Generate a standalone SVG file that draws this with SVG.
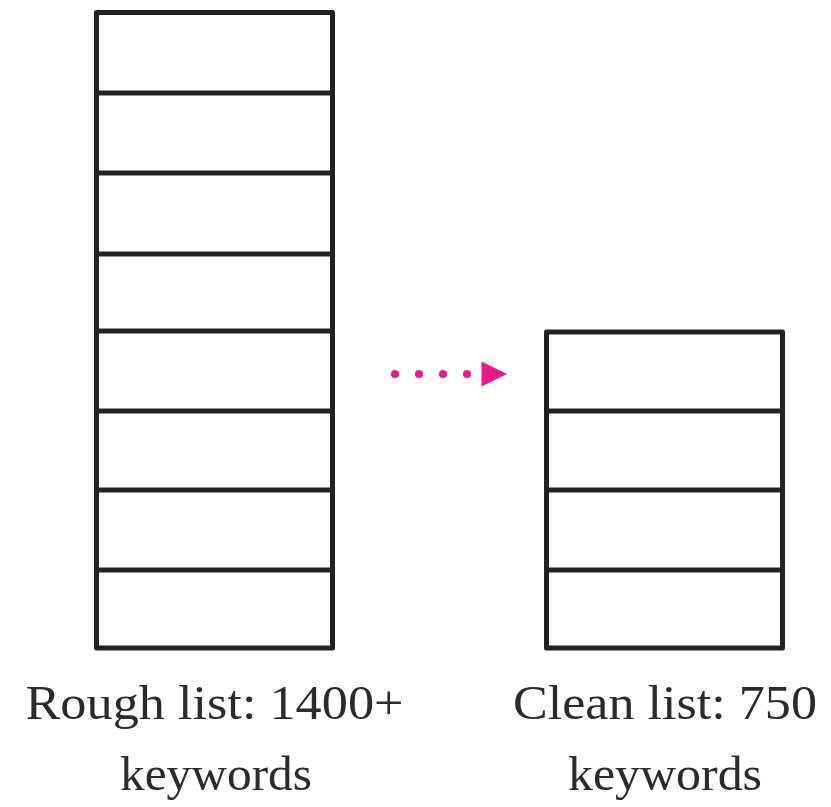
<svg xmlns="http://www.w3.org/2000/svg" width="831" height="807" viewBox="0 0 831 807">
  <style>
    .box { fill: #ffffff; stroke: #222222; stroke-width: 5; stroke-linejoin: round; }
    .row { stroke: #222222; stroke-width: 5; }
    .label { font-family: "Liberation Serif", "DejaVu Serif", serif; font-size: 49px; fill: #2b2b2b; text-anchor: middle; }
    .dot { fill: #e8198b; }
  </style>
  <rect width="831" height="807" fill="#ffffff"/>

  <!-- rough list: 8 rows -->
  <g id="rough-list">
    <rect class="box" x="96.5" y="12.5" width="236" height="635.5"/>
    <line class="row" x1="96.5" y1="93" x2="332.5" y2="93"/>
    <line class="row" x1="96.5" y1="173" x2="332.5" y2="173"/>
    <line class="row" x1="96.5" y1="254" x2="332.5" y2="254"/>
    <line class="row" x1="96.5" y1="331" x2="332.5" y2="331"/>
    <line class="row" x1="96.5" y1="411" x2="332.5" y2="411"/>
    <line class="row" x1="96.5" y1="490" x2="332.5" y2="490"/>
    <line class="row" x1="96.5" y1="570" x2="332.5" y2="570"/>
    <text class="label" x="214.5" y="719" textLength="378" lengthAdjust="spacingAndGlyphs">Rough list: 1400+</text>
    <text class="label" x="216" y="790" textLength="192" lengthAdjust="spacingAndGlyphs">keywords</text>
  </g>

  <!-- clean list: 4 rows -->
  <g id="clean-list">
    <rect class="box" x="546.5" y="332" width="236" height="316"/>
    <line class="row" x1="546.5" y1="411" x2="782.5" y2="411"/>
    <line class="row" x1="546.5" y1="490" x2="782.5" y2="490"/>
    <line class="row" x1="546.5" y1="570" x2="782.5" y2="570"/>
    <text class="label" x="665" y="719" textLength="304" lengthAdjust="spacingAndGlyphs">Clean list: 750</text>
    <text class="label" x="665" y="790" textLength="194" lengthAdjust="spacingAndGlyphs">keywords</text>
  </g>

  <!-- dotted arrow between the lists -->
  <g id="connectors">
    <circle class="dot" cx="395" cy="374" r="4"/>
    <circle class="dot" cx="419" cy="374" r="4"/>
    <circle class="dot" cx="443" cy="374" r="4"/>
    <circle class="dot" cx="467" cy="374" r="4"/>
    <polygon class="dot" points="481.5,361.5 507,374 481.5,386.5"/>
  </g>
</svg>
